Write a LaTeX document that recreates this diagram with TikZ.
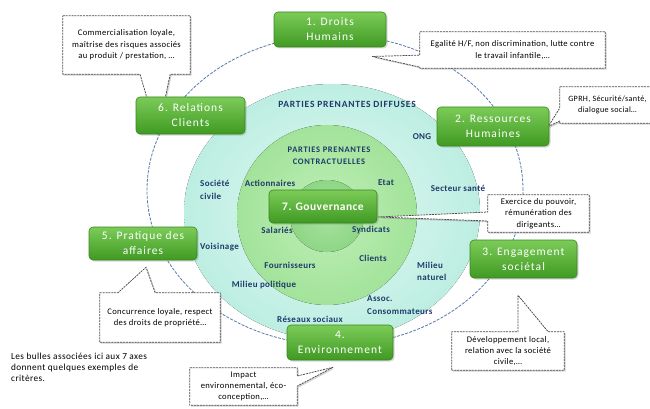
\documentclass[tikz,border=0pt]{standalone}
\usepackage{fontspec}
\setmainfont{Carlito}
\newfontfamily\boxfont{Carlito}[LetterSpace=9]
\newfontfamily\widefont{Carlito}[LetterSpace=4]
\newfontfamily\capsfont{Carlito}[LetterSpace=8]
\usetikzlibrary{shadows,calc}
\definecolor{navy}{HTML}{1F3A6B}
\definecolor{ringblue}{HTML}{5878A8}
\definecolor{edgegray}{HTML}{4A4A4A}
\definecolor{gtop}{HTML}{7CCB58}
\definecolor{gbot}{HTML}{3F9A22}
\definecolor{gborder}{HTML}{3A8620}
\definecolor{aquain}{HTML}{E2F8F2}
\definecolor{aquaout}{HTML}{BDEEE2}
\definecolor{greenin}{HTML}{C0EFB8}
\definecolor{greenout}{HTML}{A2E39A}
\definecolor{corein}{HTML}{A6E39E}
\definecolor{coreout}{HTML}{8ED686}
\pgfdeclarelayer{back}
\pgfdeclarelayer{mid}
\pgfsetlayers{back,mid,main}
\begin{document}
\begin{tikzpicture}[x=1pt,y=-1pt,
  axisbox/.style={rectangle, rounded corners=4pt, draw=gborder, line width=0.6pt,
    top color=gtop, bottom color=gbot, text=white, align=center, inner sep=1pt,
    font=\boxfont\fontsize{11.5}{15}\selectfont,
    drop shadow={opacity=0.3, shadow xshift=1.5pt, shadow yshift=-1.5pt}},
  bubbletext/.style={rectangle, inner sep=0pt, align=center, text=black,
    font=\widefont\fontsize{8.6}{11.3}\selectfont},
  bubble/.style={fill=white, draw=edgegray, line width=0.75pt,
    dash pattern=on 2pt off 0.9pt, line join=round,
    drop shadow={opacity=0.35, shadow xshift=1.4pt, shadow yshift=-1.4pt}},
  stake/.style={text=navy, align=left, inner sep=0pt,
    font=\widefont\fontsize{9}{12.5}\selectfont\bfseries},
  header/.style={text=navy, align=center, inner sep=0pt,
    font=\capsfont\fontsize{9.5}{12}\selectfont\bfseries},
  ring/.style={draw=ringblue, line width=0.8pt, dash pattern=on 3pt off 1.3pt}]
\useasboundingbox (0,0) rectangle (650,409);

% stakeholder zones and the dashed ring linking the seven axes
\begin{pgfonlayer}{back}
  \fill[inner color=aquain, outer color=aquaout]
    (332,212) ellipse [x radius=148pt, y radius=128pt];
  \fill[inner color=greenin, outer color=greenout]
    (327,215) ellipse [x radius=90pt, y radius=90pt];
  \fill[inner color=corein, outer color=coreout]
    (327,216) ellipse [x radius=37pt, y radius=36pt];
  \draw[ring] (335,190) ellipse [x radius=188pt, y radius=155pt];
\end{pgfonlayer}

% the seven axes
\node[axisbox, minimum width=112pt, minimum height=35pt] (ax1) at (330,29.5) {1. Droits\\Humains};
\node[axisbox, minimum width=112pt, minimum height=39pt] (ax2) at (493,126.5) {2. Ressources\\Humaines};
\node[axisbox, minimum width=107pt, minimum height=38pt] (ax3) at (523.5,259) {3. Engagement\\sociétal};
\node[axisbox, minimum width=106pt, minimum height=35pt] (ax4) at (340,342.5) {4.\\Environnement};
\node[axisbox, minimum width=108pt, minimum height=33pt] (ax5) at (143,243.5) {5. Pratique des\\affaires};
\node[axisbox, minimum width=109pt, minimum height=37pt] (ax6) at (190.5,115.5) {6. Relations\\Clients};
\node[axisbox, minimum width=108pt, minimum height=33pt,
      font=\widefont\fontsize{11.5}{14}\selectfont\bfseries] (ax7) at (323,206.5) {7. Gouvernance};

% stakeholders
\node[header] (diff) at (347,104) {PARTIES PRENANTES DIFFUSES};
\node[header, font=\capsfont\fontsize{8.5}{12}\selectfont\bfseries] (contr) at (329,156)
  {PARTIES PRENANTES\\CONTRACTUELLES};
\node[stake] (ong) at (422,137) {ONG};
\node[stake] (sante) at (458,188) {Secteur santé};
\node[stake, anchor=west] (civ) at (200,190) {Société\\civile};
\node[stake, anchor=west] (vois) at (200,247) {Voisinage};
\node[stake, anchor=west] (nat) at (417,271.5) {Milieu\\naturel};
\node[stake] (pol) at (264,285) {Milieu politique};
\node[stake, anchor=west] (cons) at (367,305) {Assoc.\\Consommateurs};
\node[stake] (res) at (310,319) {Réseaux sociaux};
\node[stake] (act) at (270,183) {Actionnaires};
\node[stake] (etat) at (386,183) {Etat};
\node[stake] (sal) at (277,230) {Salariés};
\node[stake] (synd) at (371,230) {Syndicats};
\node[stake] (four) at (290,265) {Fournisseurs};
\node[stake] (cli) at (373,258) {Clients};

% example bubbles
\node[bubbletext, minimum width=127pt, minimum height=58pt] (bA) at (126.5,45)
  {Commercialisation loyale,\\maîtrise des risques associés\\au produit / prestation, …};
\node[bubbletext, minimum width=185pt, minimum height=36pt] (bB) at (512.5,50)
  {Egalité H/F, non discrimination, lutte contre\\le travail infantile,…};
\node[bubbletext, minimum width=95pt, minimum height=36pt,
      font=\widefont\fontsize{8.1}{11.3}\selectfont] (bC) at (607.5,105)
  {GPRH, Sécurité/santé,\\dialogue social…};
\node[bubbletext, minimum width=101pt, minimum height=37pt] (bD) at (538.5,213.5)
  {Exercice du pouvoir,\\rémunération des\\dirigeants…};
\node[bubbletext, minimum width=112pt, minimum height=38pt] (bE) at (508,351)
  {Développement local,\\relation avec la société\\civile,…};
\node[bubbletext, minimum width=120pt, minimum height=49pt] (bF) at (160,317.5)
  {Concurrence loyale, respect\\des droits de propriété…};
\node[bubbletext, minimum width=107pt, minimum height=37pt] (bG) at (243.5,386.5)
  {Impact\\environnemental, éco-\\conception,…};

% bubble pointer tips, each close to its axis
\coordinate (tA) at ($(ax6.south west)!0.4!(ax6.south)$);
\coordinate (tB) at ($(ax1.east)+(-14,27)$);
\coordinate (tC) at ($(ax2.east)+(-1,0)$);
\coordinate (tD) at ($(ax7.east)+(1,10.5)$);
\coordinate (tE) at ($(ax3.south)+(-5.5,17)$);
\coordinate (tF) at ($(ax5.south)+(3,7)$);
\coordinate (tG) at ($(ax4.south)+(-7,7)$);

\begin{pgfonlayer}{mid}
  \draw[bubble] (bA.north west) -- (bA.north east) -- (bA.south east)
    -- ($(bA.south west)!0.843!(bA.south east)$) -- (tA)
    -- ($(bA.south west)!0.606!(bA.south east)$) -- (bA.south west) -- cycle;
  \draw[bubble] (bB.north west) -- (bB.north east) -- (bB.south east) -- (bB.south west)
    -- ($(bB.north west)!0.97!(bB.south west)$) -- (tB)
    -- ($(bB.north west)!0.64!(bB.south west)$) -- cycle;
  \draw[bubble] (bC.north west) -- (bC.north east) -- (bC.south east) -- (bC.south west)
    -- ($(bC.north west)!0.94!(bC.south west)$) -- (tC)
    -- ($(bC.north west)!0.58!(bC.south west)$) -- cycle;
  \draw[bubble] (bD.north west) -- (bD.north east) -- (bD.south east) -- (bD.south west)
    -- ($(bD.north west)!0.70!(bD.south west)$) -- (tD)
    -- ($(bD.north west)!0.46!(bD.south west)$) -- cycle;
  \draw[bubble] (bE.south west) -- (bE.north west)
    -- ($(bE.north west)!0.59!(bE.north east)$) -- (tE)
    -- ($(bE.north west)!0.857!(bE.north east)$) -- (bE.north east)
    -- (bE.south east) -- cycle;
  \draw[bubble] (bF.south west) -- (bF.north west)
    -- ($(bF.north west)!0.15!(bF.north east)$) -- (tF)
    -- ($(bF.north west)!0.46!(bF.north east)$) -- (bF.north east)
    -- (bF.south east) -- cycle;
  \draw[bubble] (bG.north west) -- (bG.north east)
    -- ($(bG.north east)!0.22!(bG.south east)$) -- (tG)
    -- ($(bG.north east)!0.49!(bG.south east)$) -- (bG.south east)
    -- (bG.south west) -- cycle;
\end{pgfonlayer}

% note
\node[anchor=north west, align=left, inner sep=0pt, font=\widefont\fontsize{9.3}{11}\selectfont] (note)
  at (11,353) {Les bulles associées ici aux 7 axes\\donnent quelques exemples de\\critères.};
\end{tikzpicture}
\end{document}
